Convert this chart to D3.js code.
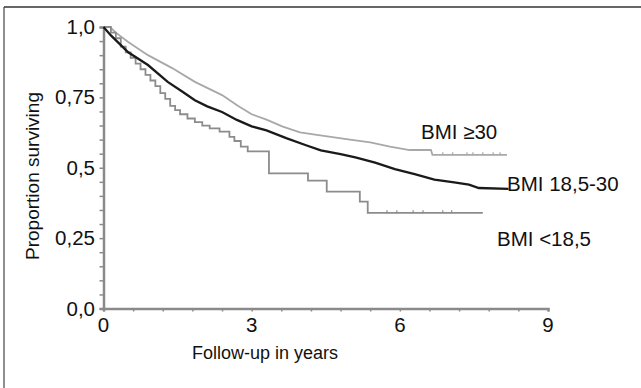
<!DOCTYPE html>
<html><head><meta charset="utf-8">
<script src="https://cdn.jsdelivr.net/npm/d3@7/dist/d3.min.js"></script>
<style>
html,body{margin:0;padding:0;background:#fff;}
svg{display:block;font-family:"Liberation Sans",Arial,Helvetica,sans-serif;}
</style></head>
<body>
<svg id="c" width="641" height="388"></svg>
<script>
// ---- data ----
const xTicks = [0, 3, 6, 9];
const yTickValues = [0, 0.25, 0.5, 0.75, 1.0];
const yTickLabels = ["0,0", "0,25", "0,5", "0,75", "1,0"];
const seriesNames = ["BMI \u226530", "BMI 18,5-30", "BMI <18,5"];

const bmiHighTime = [0,0.13,0.25,0.5,0.9,1.39,1.85,2.4,2.72,3.0,3.3,3.63,3.98,4.32,4.99,5.4,5.8,6.2,6.63,6.66,8.17];
const bmiHighSurv = [1,1,0.98,0.947,0.9,0.854,0.805,0.758,0.72,0.69,0.671,0.646,0.626,0.617,0.6,0.59,0.575,0.563,0.563,0.546,0.546];

const bmiMidTime = [0,0.15,0.5,0.9,1.3,1.6,1.85,2.1,2.4,2.7,3.0,3.3,3.7,4.1,4.4,4.8,5.1,5.5,5.9,6.3,6.7,7.1,7.4,7.6,8.2];
const bmiMidSurv = [1,0.97,0.91,0.865,0.805,0.77,0.74,0.718,0.698,0.67,0.647,0.633,0.605,0.58,0.562,0.548,0.537,0.518,0.495,0.477,0.458,0.448,0.44,0.428,0.425];

const bmiLowTime = [0,0.15,0.25,0.35,0.45,0.55,0.65,0.75,0.85,0.95,1.05,1.15,1.25,1.35,1.45,1.55,1.7,1.85,2.0,2.15,2.35,2.55,2.65,2.78,2.92,3.35,4.14,4.52,5.19,5.35,7.68];
const bmiLowSurv = [1,0.98,0.96,0.93,0.91,0.89,0.87,0.85,0.83,0.81,0.79,0.765,0.745,0.72,0.705,0.69,0.675,0.662,0.65,0.64,0.628,0.61,0.595,0.575,0.558,0.48,0.454,0.415,0.38,0.34,0.34];

const bmiHighCensor = [6.87,7.07,7.36,7.48,7.68,7.89,8.03];
const bmiLowCensor = [5.74,5.94,6.27,6.47,6.87,7.05];

// ---- drawing ----
const svg = d3.select("#c");
const x = d3.scaleLinear().domain([0, 9]).range([103.5, 548]);
const y = d3.scaleLinear().domain([0, 1]).range([308.5, 27]);

// frame
svg.append("line").attr("x1",4).attr("x2",641).attr("y1",7).attr("y2",7).attr("stroke","#666").attr("stroke-width",2);
svg.append("line").attr("x1",4).attr("x2",4).attr("y1",7).attr("y2",388).attr("stroke","#444").attr("stroke-width",1.2);

const axisColor = "#8a8a8a";
// y axis minor ticks
const yMinor = d3.range(0, 21).map(i => i * 0.05);
const yAxis = d3.axisLeft(y).tickValues(yMinor).tickSize(4).tickFormat("");
const gy = svg.append("g").attr("transform", `translate(${x(0)},0)`).call(yAxis);
gy.select(".domain").attr("stroke", axisColor).attr("stroke-width", 2.5);
gy.selectAll(".tick line").attr("stroke", axisColor).attr("stroke-width", 1.5);

const xMinor = d3.range(0, 16).map(i => +(i * 0.6).toFixed(2));
const xAxis = d3.axisBottom(x).tickValues(xMinor).tickSize(3).tickFormat("");
const gx = svg.append("g").attr("transform", `translate(0,${y(0)})`).call(xAxis);
gx.select(".domain").attr("stroke", axisColor).attr("stroke-width", 2.5);
gx.selectAll(".tick line").attr("stroke", axisColor).attr("stroke-width", 1.5);

// tick labels
svg.append("g").selectAll("text").data(yTickValues).join("text")
  .attr("x", 95).attr("y", d => y(d) + 7)
  .attr("text-anchor", "end").attr("font-size", 20.5).attr("fill", "#111")
  .text((d, i) => yTickLabels[i]);
svg.append("g").selectAll("text").data(xTicks).join("text")
  .attr("x", d => x(d)).attr("y", 332)
  .attr("text-anchor", "middle").attr("font-size", 20.5).attr("fill", "#111")
  .text(d => d);

// axis titles
svg.append("text").attr("x", 265).attr("y", 359).attr("text-anchor", "middle")
  .attr("font-size", 18).attr("fill", "#111").text("Follow-up in years");
svg.append("text").attr("transform", "translate(39,176) rotate(-90)").attr("text-anchor", "middle")
  .attr("font-size", 19).attr("fill", "#111").text("Proportion surviving");

// curves
const zip = (t, s) => t.map((v, i) => [v, s[i]]);
const lineLin = d3.line().x(d => x(d[0])).y(d => y(d[1]));
const lineStep = d3.line().x(d => x(d[0])).y(d => y(d[1])).curve(d3.curveStepAfter);

svg.append("path").attr("d", lineLin(zip(bmiHighTime, bmiHighSurv)))
  .attr("fill", "none").attr("stroke", "#a8a8a8").attr("stroke-width", 1.8);
svg.append("path").attr("d", lineStep(zip(bmiLowTime, bmiLowSurv)))
  .attr("fill", "none").attr("stroke", "#8c8c8c").attr("stroke-width", 1.8);
svg.append("path").attr("d", lineLin(zip(bmiMidTime, bmiMidSurv)))
  .attr("fill", "none").attr("stroke", "#1a1a1a").attr("stroke-width", 2.3);

// censor marks
svg.append("g").selectAll("line").data(bmiHighCensor).join("line")
  .attr("x1", d => x(d)).attr("x2", d => x(d))
  .attr("y1", y(0.546) - 2.5).attr("y2", y(0.546) + 0.5)
  .attr("stroke", "#a8a8a8").attr("stroke-width", 1.2);
svg.append("g").selectAll("line").data(bmiLowCensor).join("line")
  .attr("x1", d => x(d)).attr("x2", d => x(d))
  .attr("y1", y(0.34) - 2.5).attr("y2", y(0.34) + 0.5)
  .attr("stroke", "#8c8c8c").attr("stroke-width", 1.2);

// labels
const labelPos = [[421, 139], [507, 191], [497, 246]];
svg.append("g").selectAll("text").data(seriesNames).join("text")
  .attr("x", (d, i) => labelPos[i][0]).attr("y", (d, i) => labelPos[i][1])
  .attr("font-size", 20.5).attr("fill", "#111")
  .text(d => d);
</script>
</body></html>
